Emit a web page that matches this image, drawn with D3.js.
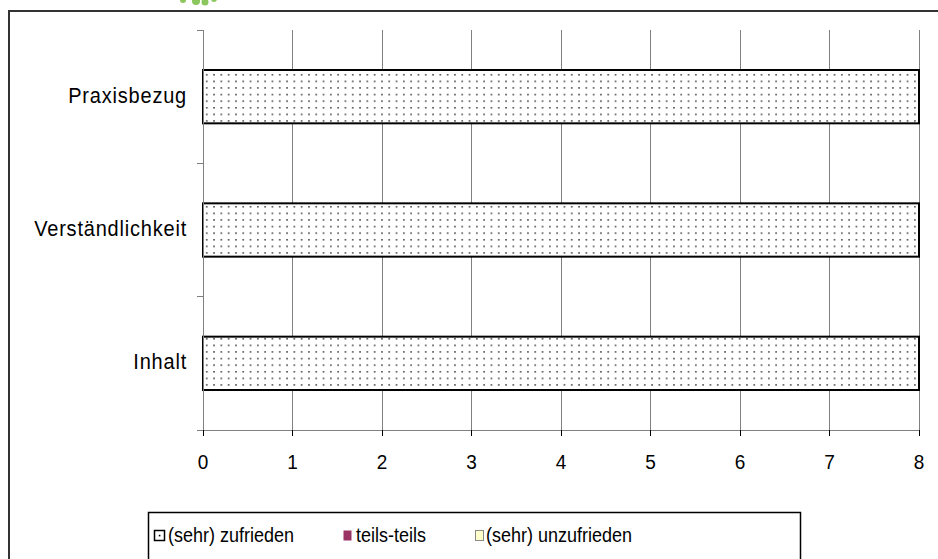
<!DOCTYPE html>
<html><head><meta charset="utf-8">
<script src="https://cdn.jsdelivr.net/npm/d3@7"></script>
<style>body{margin:0;background:#fff}svg{display:block}</style>
</head><body>
<svg id="c" width="938" height="559"></svg>
<script>
const categories = ["Praxisbezug", "Verständlichkeit", "Inhalt"];
const seriesNames = ["(sehr) zufrieden", "teils-teils", "(sehr) unzufrieden"];
const zufrieden = [8, 8, 8];
const teilsTeils = [0, 0, 0];
const unzufrieden = [0, 0, 0];
const xTicks = [0, 1, 2, 3, 4, 5, 6, 7, 8];

const svg = d3.select("#c");
const font = "'Liberation Sans', Arial, sans-serif";
const defs = svg.append("defs");
const pat = defs.append("pattern").attr("id", "dots").attr("patternUnits", "userSpaceOnUse")
  .attr("width", 7.3).attr("height", 6.6).attr("x", 204).attr("y", 73);
pat.append("rect").attr("width", 7.3).attr("height", 6.6).attr("fill", "#fff");
pat.append("rect").attr("x", 2).attr("y", 1).attr("width", 1.5).attr("height", 1.5).attr("fill", "#333");

// logo blobs
const g0 = svg.append("g").attr("fill", "#8cc65f");
[[183,0,3],[196,1,4],[205,2,3.5],[214,-1,3]].forEach(d=>g0.append("circle").attr("cx",d[0]).attr("cy",d[1]).attr("r",d[2]));

// outer border
svg.append("path").attr("d","M9,559 V11 H938").attr("fill","none").attr("stroke","#333").attr("stroke-width",2);

const x = d3.scaleLinear().domain([0, 8]).range([203, 919]);
const y = d3.scaleBand().domain(categories).range([30, 430]).paddingInner(0.6).paddingOuter(0.3);
const bandEdges = [30, 163.3, 296.7, 430];

// gridlines
svg.append("g").selectAll("line").data(xTicks.slice(1)).join("line")
  .attr("x1", d=>x(d)).attr("x2", d=>x(d)).attr("y1", 30).attr("y2", 436)
  .attr("stroke", "#808080").attr("stroke-width", 1).attr("shape-rendering","crispEdges");

// bars for each series (stacked)
const stackData = categories.map((c,i)=>({cat:c, a:zufrieden[i], b:teilsTeils[i], c2:unzufrieden[i]}));
const fills = ["url(#dots)", "#993366", "#ffffcc"];
const keys = ["a","b","c2"];
const stack = d3.stack().keys(keys)(stackData);
stack.forEach((s,si)=>{
  svg.append("g").selectAll("rect").data(s.filter(d=>d[1]-d[0]>0)).join("rect")
    .attr("x", d=>x(d[0])).attr("width", d=>x(d[1])-x(d[0]))
    .attr("y", d=>y(d.data.cat)).attr("height", y.bandwidth())
    .attr("fill", fills[si]).attr("stroke", "#000").attr("stroke-width", 2);
});

// axes
svg.append("line").attr("x1",203).attr("x2",203).attr("y1",30).attr("y2",430).attr("stroke","#808080").attr("shape-rendering","crispEdges");
svg.append("line").attr("x1",197).attr("x2",919).attr("y1",430).attr("y2",430).attr("stroke","#808080").attr("shape-rendering","crispEdges");
svg.append("g").selectAll("line").data(bandEdges).join("line")
  .attr("x1",197).attr("x2",203).attr("y1",d=>d).attr("y2",d=>d).attr("stroke","#808080").attr("shape-rendering","crispEdges");
svg.append("g").selectAll("line").data(xTicks).join("line")
  .attr("x1",d=>x(d)).attr("x2",d=>x(d)).attr("y1",430).attr("y2",436).attr("stroke","#000").attr("shape-rendering","crispEdges");
svg.append("g").selectAll("text").data(xTicks).join("text")
  .attr("transform",d=>`translate(${x(d)},469) scale(1,1.05)`).attr("text-anchor","middle")
  .attr("font-family",font).attr("font-size",19).text(d=>d);
svg.append("g").selectAll("text").data(categories).join("text")
  .attr("transform",d=>`translate(187,${y(d)+y.bandwidth()/2+6}) scale(1,1.12)`).attr("text-anchor","end")
  .attr("font-family",font).attr("font-size",20).attr("letter-spacing",0.8).text(d=>d);

// legend
svg.append("rect").attr("x",148.5).attr("y",512.5).attr("width",652).attr("height",60)
  .attr("fill","#fff").attr("stroke","#000").attr("stroke-width",1.5);
const legX = [154, 343, 475];
const lg = svg.append("g");
seriesNames.forEach((n,i)=>{
  if(i===0){
    lg.append("rect").attr("x",legX[i]+0.5).attr("y",530.5).attr("width",10).attr("height",10).attr("fill","#fff").attr("stroke","#000").attr("stroke-width",1.5);
    lg.append("rect").attr("x",legX[i]+4.8).attr("y",534.8).attr("width",1.6).attr("height",1.6).attr("fill","#000");
  } else {
    lg.append("rect").attr("x",legX[i]+0.5).attr("y",530.5).attr("width",8).attr("height",10).attr("fill",fills[i]).attr("stroke", i===2?"#888":"none").attr("stroke-width",1);
  }
  lg.append("text").attr("transform",`translate(${legX[i]+(i===0?14:i===1?13:11)},542) scale(1,1.15)`)
    .attr("font-family",font).attr("font-size",18).text(n);
});
</script>
</body></html>
